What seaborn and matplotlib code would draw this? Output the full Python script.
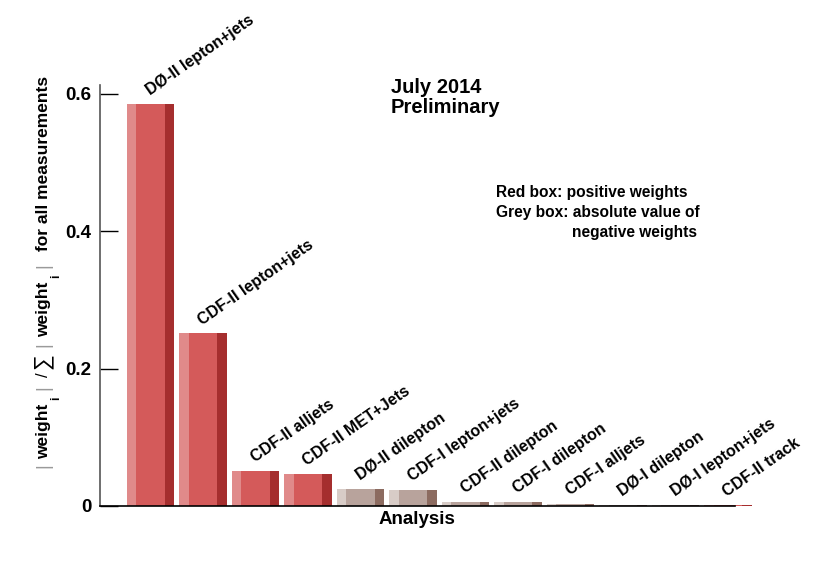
import numpy as np
import pandas as pd
import matplotlib
matplotlib.use("Agg")
import matplotlib.pyplot as plt
import seaborn as sns

# data
analyses = ["DØ-II lepton+jets", "CDF-II lepton+jets", "CDF-II alljets", "CDF-II MET+Jets",
            "DØ-II dilepton", "CDF-I lepton+jets", "CDF-II dilepton", "CDF-I dilepton",
            "CDF-I alljets", "DØ-I dilepton", "DØ-I lepton+jets", "CDF-II track"]
weights = [0.585, 0.251, 0.0514, 0.0465, 0.0243, 0.0233, 0.0054, 0.0058, 0.0030, 0.0015, 0.0010, 0.0008]
signs = ["+", "+", "+", "+", "-", "-", "-", "-", "-", "-", "-", "+"]
y_ticks = [0, 0.2, 0.4, 0.6]
y_ticklabels = ["0", "0.2", "0.4", "0.6"]

# colours: light / main / dark stripe
colors = {
    "+": ("#e08a8a", "#d45a5a", "#a52e2e"),
    "-": ("#d8ccc7", "#b8a39c", "#8c6b60"),
}

df = pd.DataFrame({"analysis": analyses, "weight": weights, "sign": signs})

sns.set_style("white")
plt.rcParams["font.family"] = ["Liberation Sans", "DejaVu Sans"]
plt.rcParams["font.weight"] = "bold"
plt.rcParams["text.color"] = "black"
plt.rcParams["ytick.labelcolor"] = "black"

W, H = 834, 563
fig = plt.figure(figsize=(W / 100, H / 100), dpi=100)
ax = fig.add_axes([100 / W, 1 - 506 / H, 635 / W, 421 / H])

bw = 0.905
main_pal = [colors[s][1] for s in signs]
sns.barplot(data=df, x="analysis", y="weight", hue="analysis", palette=main_pal,
            legend=False, width=bw, saturation=1, ax=ax)

x = np.arange(len(analyses))
left = x - bw / 2
light = [colors[s][0] for s in signs]
dark = [colors[s][2] for s in signs]
ax.bar(left, weights, width=0.2 * bw, align="edge", color=light, linewidth=0)
ax.bar(left + 0.8 * bw, weights, width=0.2 * bw, align="edge", color=dark, linewidth=0)
for p in ax.patches:
    p.set_clip_on(False)
    p.set_linewidth(0)

for xi, w, name in zip(x, weights, analyses):
    ax.annotate(name, xy=(xi, w), xytext=(-0.5, 6), textcoords="offset points",
                rotation=35, rotation_mode="anchor", ha="left", va="baseline",
                fontsize=11.5, fontweight="bold")

ax.set_xlim(-0.962, 11.13)
ax.set_ylim(0, 0.6124)
ax.set_xticks([])
ax.set_yticks(y_ticks)
ax.set_yticklabels(y_ticklabels, fontsize=13.5, fontweight="bold")
ax.tick_params(axis="y", direction="in", length=13, width=1, color="black", pad=6, left=True)
for s in ["top", "right"]:
    ax.spines[s].set_visible(False)
ax.spines["left"].set_color("#555555")
ax.spines["bottom"].set_color("black")
ax.spines["left"].set_linewidth(1.2)
ax.spines["bottom"].set_linewidth(1.2)
ax.set_xlabel("")
ax.set_ylabel("")

fig.text(417 / W, 1 - 520 / H, "Analysis", ha="center", va="center",
         fontsize=13.5, fontweight="bold")

# y title built from pieces: |weight_i| / sum |weight_i| for all measurements
def ytitle(txt, yc, xc=44, size=12.5, color="black", weight="bold"):
    fig.text(xc / W, 1 - yc / H, txt, rotation=90, ha="center", va="center",
             fontsize=size, color=color, fontweight=weight)

ytitle("|", 466, size=13, color="#999999", weight="normal")
ytitle("weight", 431)
ytitle("i", 398, xc=56, size=8.5)
ytitle("|", 388, size=13, color="#999999", weight="normal")
ytitle("/", 375, size=12, weight="normal")
ytitle("∑", 361, xc=42, size=16, weight="normal")
ytitle("|", 345, size=13, color="#999999", weight="normal")
ytitle("weight", 309)
ytitle("i", 276, xc=56, size=8.5)
ytitle("|", 266, size=13, color="#999999", weight="normal")
ytitle("for all measurements", 163)

fig.text(391 / W, 1 - 93 / H, "July 2014", ha="left", va="baseline",
         fontsize=14.5, fontweight="bold")
fig.text(391 / W, 1 - 113 / H, "Preliminary", ha="left", va="baseline",
         fontsize=14.5, fontweight="bold")
fig.text(496 / W, 1 - 196.5 / H, "Red box: positive weights", ha="left", va="baseline",
         fontsize=11.2, fontweight="bold")
fig.text(496 / W, 1 - 216.5 / H, "Grey box: absolute value of", ha="left", va="baseline",
         fontsize=11.2, fontweight="bold")
fig.text(572 / W, 1 - 236.5 / H, "negative weights", ha="left", va="baseline",
         fontsize=11.2, fontweight="bold")

fig.savefig("out.png", dpi=100)
